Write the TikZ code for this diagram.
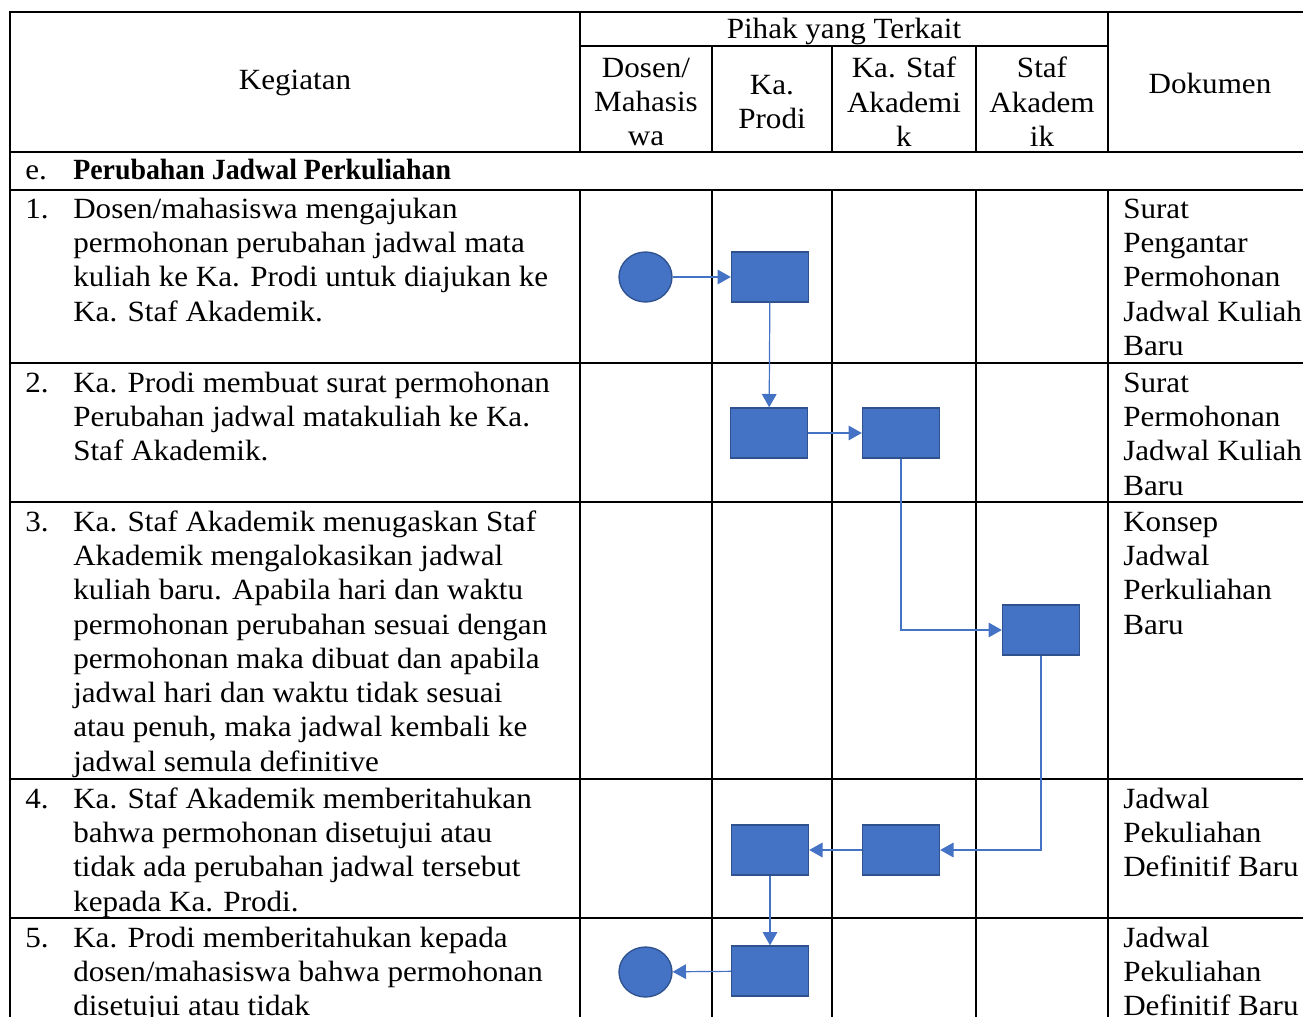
\documentclass[tikz,border=0pt]{standalone}
\usepackage{fontspec}
\setmainfont[FakeStretch=1.06,BoldFeatures={FakeStretch=0.95}]{Liberation Serif}
\usepackage{xcolor}
\usepackage{tikz}
\usetikzlibrary{arrows.meta,shapes.geometric}

\definecolor{boxblue}{HTML}{4472C4}
\definecolor{boxedge}{HTML}{2F528F}

\begin{document}
\begin{tikzpicture}[x=0.75pt,y=-0.75pt,
  grid/.style={line width=1.3pt},
  proc/.style={draw=boxedge,fill=boxblue,line width=1pt,inner sep=0pt,
    minimum width=57.75pt,minimum height=37.5pt},
  term/.style={ellipse,draw=boxedge,fill=boxblue,line width=1pt,inner sep=0pt,
    minimum width=39.75pt,minimum height=37.5pt},
  flow/.style={draw=boxblue,line width=0.9pt,-{Triangle[length=10pt,width=11pt]}},
  txt/.style={anchor=north west,align=left,inner sep=0pt,
    font=\fontsize{22}{25.7}\selectfont},
  head/.style={align=center,inner sep=0pt,
    font=\fontsize{22}{25.8}\selectfont}]
  \useasboundingbox (0,0) rectangle (1303,1017);

  % table rules
  \draw[grid] (10,1017) -- (10,12) -- (1303,12);
  \draw[grid] (580,46) -- (1108,46);
  \foreach \y in {152,190,363,502,779,918}
    \draw[grid] (10,\y) -- (1303,\y);
  \foreach \x in {580,1108}
    \draw[grid] (\x,12) -- (\x,152);
  \foreach \x in {712,832,976}
    \draw[grid] (\x,46) -- (\x,152);
  \foreach \x in {580,712,832,976,1108}
    \draw[grid] (\x,190) -- (\x,1017);

  % header
  \node[head] (kegiatan) at (295,83) {Kegiatan};
  \node[head] (pihak) at (844,31) {Pihak yang Terkait};
  \node[head] (dosen) at (646,102) {Dosen/\\Mahasis\\wa};
  \node[head] (kaprodi) at (772,102) {Ka.\\Prodi};
  \node[head] (kastaf) at (904,102) {Ka. Staf\\Akademi\\k};
  \node[head] (staf) at (1042,102) {Staf\\Akadem\\ik};
  \node[head] (dokumen) at (1210,83) {Dokumen};

  % section
  \node[txt] (sec) at (25,155) {\strut e.};
  \node[txt,font=\fontsize{22}{25.7}\selectfont\bfseries] (sectitle) at (73,155)
    {\strut Perubahan Jadwal Perkuliahan};

  % kegiatan rows
  \node[txt] (n1) at (25,194) {\strut 1.};
  \node[txt] (k1) at (73,194) {\strut Dosen/mahasiswa mengajukan\\permohonan perubahan jadwal mata\\kuliah ke Ka. Prodi untuk diajukan ke\\Ka. Staf Akademik.};
  \node[txt] (n2) at (25,368) {\strut 2.};
  \node[txt] (k2) at (73,368) {\strut Ka. Prodi membuat surat permohonan\\Perubahan jadwal matakuliah ke Ka.\\Staf Akademik.};
  \node[txt] (n3) at (25,507) {\strut 3.};
  \node[txt] (k3) at (73,507) {\strut Ka. Staf Akademik menugaskan Staf\\Akademik mengalokasikan jadwal\\kuliah baru. Apabila hari dan waktu\\permohonan perubahan sesuai dengan\\permohonan maka dibuat dan apabila\\jadwal hari dan waktu tidak sesuai\\atau penuh, maka jadwal kembali ke\\jadwal semula definitive};
  \node[txt] (n4) at (25,784) {\strut 4.};
  \node[txt] (k4) at (73,784) {\strut Ka. Staf Akademik memberitahukan\\bahwa permohonan disetujui atau\\tidak ada perubahan jadwal tersebut\\kepada Ka. Prodi.};
  \node[txt] (n5) at (25,923) {\strut 5.};
  \node[txt] (k5) at (73,923) {\strut Ka. Prodi memberitahukan kepada\\dosen/mahasiswa bahwa permohonan\\disetujui atau tidak};

  % dokumen
  \node[txt] (d1) at (1123,194) {\strut Surat\\Pengantar\\Permohonan\\Jadwal Kuliah\\Baru};
  \node[txt] (d2) at (1123,368) {\strut Surat\\Permohonan\\Jadwal Kuliah\\Baru};
  \node[txt] (d3) at (1123,507) {\strut Konsep\\Jadwal\\Perkuliahan\\Baru};
  \node[txt] (d4) at (1123,784) {\strut Jadwal\\Pekuliahan\\Definitif Baru};
  \node[txt] (d5) at (1123,923) {\strut Jadwal\\Pekuliahan\\Definitif Baru};

  % flow shapes
  \node[term] (start) at (645.5,277) {};
  \node[proc] (p1) at (770,277) {};
  \node[proc] (p2) at (769,433) {};
  \node[proc] (p3) at (901,433) {};
  \node[proc] (p4) at (1041,630) {};
  \node[proc] (p5) at (901,850) {};
  \node[proc] (p6) at (770,850) {};
  \node[proc] (p7) at (770,971) {};
  \node[term] (stop) at (645.5,972) {};

  % connectors
  \draw[flow] (start) -- (p1);
  \draw[flow] (p1) -- (p2);
  \draw[flow] (p2) -- (p3);
  \draw[flow] (p3.south) |- (p4.west);
  \draw[flow] (p4.south) |- (p5.east);
  \draw[flow] (p5) -- (p6);
  \draw[flow] (p6) -- (p7);
  \draw[flow] (p7) -- (stop);
\end{tikzpicture}
\end{document}
